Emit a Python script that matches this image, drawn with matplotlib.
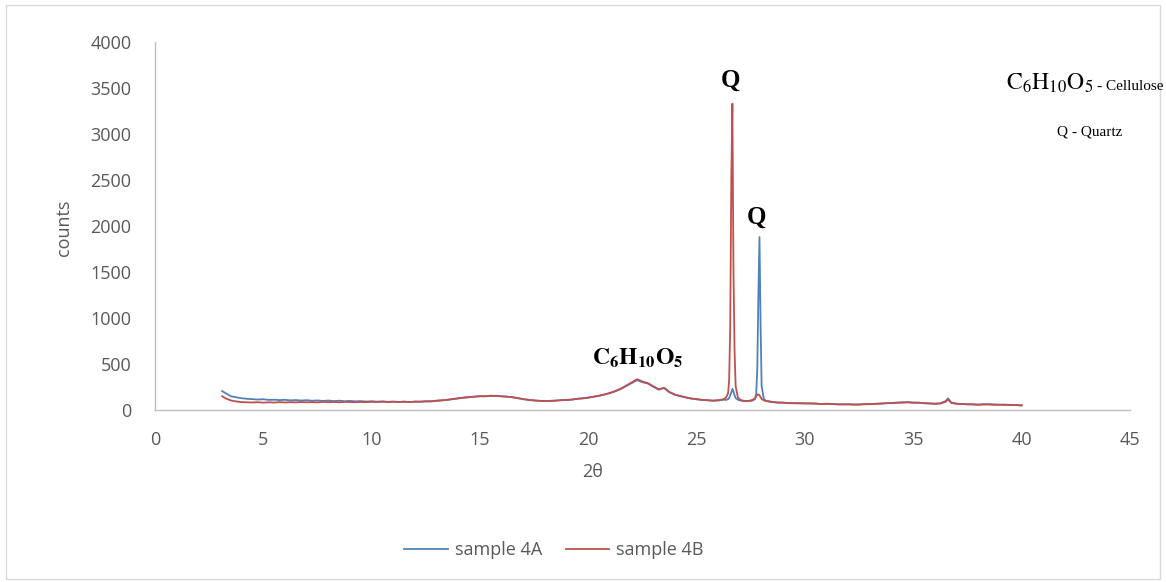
import matplotlib
matplotlib.use("Agg")
import matplotlib.pyplot as plt
from matplotlib.patches import Rectangle

plt.rcParams['mathtext.fontset'] = 'stix'

# 2theta sampling, three stretches (broad, quartz peaks, tail)
theta_low = [3.1, 3.25, 3.5, 3.75, 4.0, 4.25, 4.5, 4.75, 5.0, 5.25, 5.5, 5.75,
             6.0, 6.25, 6.5, 6.75, 7.0, 7.25, 7.5, 7.75, 8.0, 8.25, 8.5, 8.75,
             9.0, 9.25, 9.5, 9.75, 10.0, 10.25, 10.5, 10.75, 11.0, 11.25, 11.5, 11.75,
             12.0, 12.25, 12.5, 12.75, 13.0, 13.25, 13.5, 13.75, 14.0, 14.25, 14.5, 14.75,
             15.0, 15.25, 15.5, 15.75, 16.0, 16.25, 16.5, 16.75, 17.0, 17.25, 17.5, 17.75,
             18.0, 18.25, 18.5, 18.75, 19.0, 19.25, 19.5, 19.75, 20.0, 20.25, 20.5, 20.75,
             21.0, 21.25, 21.5, 21.75, 22.0, 22.25, 22.5, 22.75, 23.0, 23.25, 23.5, 23.75,
             24.0, 24.25, 24.5, 24.75, 25.0, 25.25, 25.5, 25.75, 26.0, 26.25]
theta_peak = [26.35, 26.45, 26.5, 26.55, 26.6, 26.65, 26.7, 26.75, 26.8, 26.9, 27.0,
              27.1, 27.2, 27.3, 27.4, 27.5, 27.6, 27.7, 27.75, 27.8, 27.85, 27.9,
              27.95, 28.0, 28.1, 28.2]
theta_high = [28.5, 28.75, 29.0, 29.25, 29.5, 29.75, 30.0, 30.25, 30.5, 30.75,
              31.0, 31.25, 31.5, 31.75, 32.0, 32.25, 32.5, 32.75, 33.0, 33.25,
              33.5, 33.75, 34.0, 34.25, 34.5, 34.75, 35.0, 35.25, 35.5, 35.75,
              36.0, 36.25, 36.5, 36.6, 36.75, 37.0, 37.25, 37.5, 37.75, 38.0,
              38.25, 38.5, 38.75, 39.0, 39.25, 39.5, 39.75, 40.0]

a_low = [205, 185, 150, 138, 128, 122, 118, 114, 117, 110, 112, 108,
         111, 105, 108, 103, 107, 101, 104, 99, 103, 97, 101, 96,
         99, 94, 97, 92, 95, 91, 94, 89, 92, 88, 91, 87,
         92, 89, 95, 93, 100, 104, 112, 118, 128, 133, 141, 144,
         151, 148, 156, 152, 150, 144, 140, 128, 119, 110, 104, 99,
         97, 100, 101, 107, 109, 114, 121, 127, 136, 144, 156, 168,
         186, 204, 232, 262, 292, 325, 302, 288, 252, 222, 238, 192,
         166, 150, 136, 124, 116, 109, 106, 100, 104, 112]
a_peak = [110, 118, 130, 160, 190, 230, 200, 160, 130, 112, 104,
          100, 98, 96, 98, 100, 105, 120, 180, 450, 1250, 1880,
          950, 260, 120, 100]
a_high = [88, 82, 79, 76, 73, 75, 71, 73, 69, 66,
          69, 65, 63, 61, 63, 59, 61, 63, 65, 67,
          71, 73, 77, 79, 83, 85, 81, 79, 75, 71,
          69, 73, 98, 128, 82, 69, 65, 63, 61, 59,
          61, 63, 59, 57, 59, 55, 53, 51]

b_low = [150, 128, 104, 93, 86, 84, 82, 85, 80, 84, 81, 86,
         82, 85, 83, 87, 84, 86, 83, 88, 85, 87, 84, 88,
         86, 85, 88, 86, 89, 87, 90, 86, 89, 87, 90, 86,
         90, 92, 93, 96, 102, 106, 110, 120, 126, 136, 139, 147,
         149, 152, 154, 155, 148, 146, 138, 130, 117, 111, 103, 101,
         98, 99, 103, 106, 111, 113, 123, 126, 134, 146, 154, 170,
         184, 206, 230, 265, 300, 335, 310, 292, 258, 225, 242, 195,
         168, 152, 138, 126, 118, 111, 107, 103, 106, 118]
b_peak = [135, 180, 320, 900, 2500, 3330, 1520, 650, 260, 140, 112,
          104, 100, 98, 100, 104, 112, 130, 150, 165, 170, 160,
          140, 120, 105, 98]
b_high = [86, 80, 81, 74, 75, 72, 73, 70, 70, 64,
          67, 66, 61, 62, 61, 60, 59, 64, 63, 68,
          69, 75, 75, 80, 82, 83, 79, 80, 73, 72,
          67, 71, 90, 115, 78, 67, 66, 61, 62, 57,
          62, 60, 58, 58, 56, 54, 54, 50]

two_theta = theta_low + theta_peak + theta_high
counts_4a = a_low + a_peak + a_high
counts_4b = b_low + b_peak + b_high

gray = '#595959'
tick_font = 'Open Sans'

fig = plt.figure(figsize=(11.66, 5.82), dpi=100)
ax = fig.add_axes([0.1329, 0.2955, 0.8362, 0.6323])

ax.plot(two_theta, counts_4a, color='#4F81BD', lw=1.3, label='sample 4A')
ax.plot(two_theta, counts_4b, color='#C0504D', lw=1.3, label='sample 4B')

ax.set_xlim(0, 45)
ax.set_ylim(0, 4000)
ax.set_xticks(range(0, 46, 5))
ax.set_yticks(range(0, 4001, 500))
for s in ['top', 'right']:
    ax.spines[s].set_visible(False)
for s in ['left', 'bottom']:
    ax.spines[s].set_color('#bfbfbf')
    ax.spines[s].set_linewidth(1.0)
ax.tick_params(axis='both', length=0, colors=gray, labelsize=13)
ax.tick_params(axis='y', pad=17)
ax.tick_params(axis='x', pad=15)
for lab in ax.get_xticklabels() + ax.get_yticklabels():
    lab.set_fontfamily(tick_font)

# peak labels
ax.text(26.55, 3580, 'Q', ha='center', va='center', fontsize=18,
        fontweight='bold', family='Liberation Serif')
ax.text(27.75, 2100, 'Q', ha='center', va='center', fontsize=18,
        fontweight='bold', family='Liberation Serif')
ax.text(22.3, 560, r'$\mathbf{C_6H_{10}O_5}$', ha='center', va='center', fontsize=17)

# key in the top right corner
fig.text(1093 / 1166, 1 - 90 / 582, r'$\mathrm{C_6H_{10}O_5}$', ha='right',
         va='baseline', fontsize=17)
fig.text(1097 / 1166, 1 - 90 / 582, '- Cellulose', ha='left', va='baseline',
         fontsize=11, family='Liberation Serif')
fig.text(1090 / 1166, 1 - 135 / 582, 'Q - Quartz', ha='center', va='baseline',
         fontsize=11, family='Liberation Serif')

fig.text(64 / 1166, 1 - 228 / 582, 'counts', rotation=90, ha='center', va='center',
         fontsize=13, color=gray, family=tick_font)
fig.text(593 / 1166, 1 - 472 / 582, '2θ', ha='center', va='center',
         fontsize=13, color=gray, family=tick_font)

leg = fig.legend(loc='center', bbox_to_anchor=(554 / 1166, 1 - 550 / 582), ncol=2,
                 frameon=False, handlelength=2.4, handletextpad=0.4,
                 columnspacing=1.3, prop={'family': tick_font, 'size': 13})
for t in leg.get_texts():
    t.set_color(gray)

fig.patches.append(Rectangle((0.005, 0.006), 0.99, 0.986, transform=fig.transFigure,
                             fill=False, edgecolor='#d9d9d9', lw=1.0))

fig.savefig('out.png', dpi=100)
